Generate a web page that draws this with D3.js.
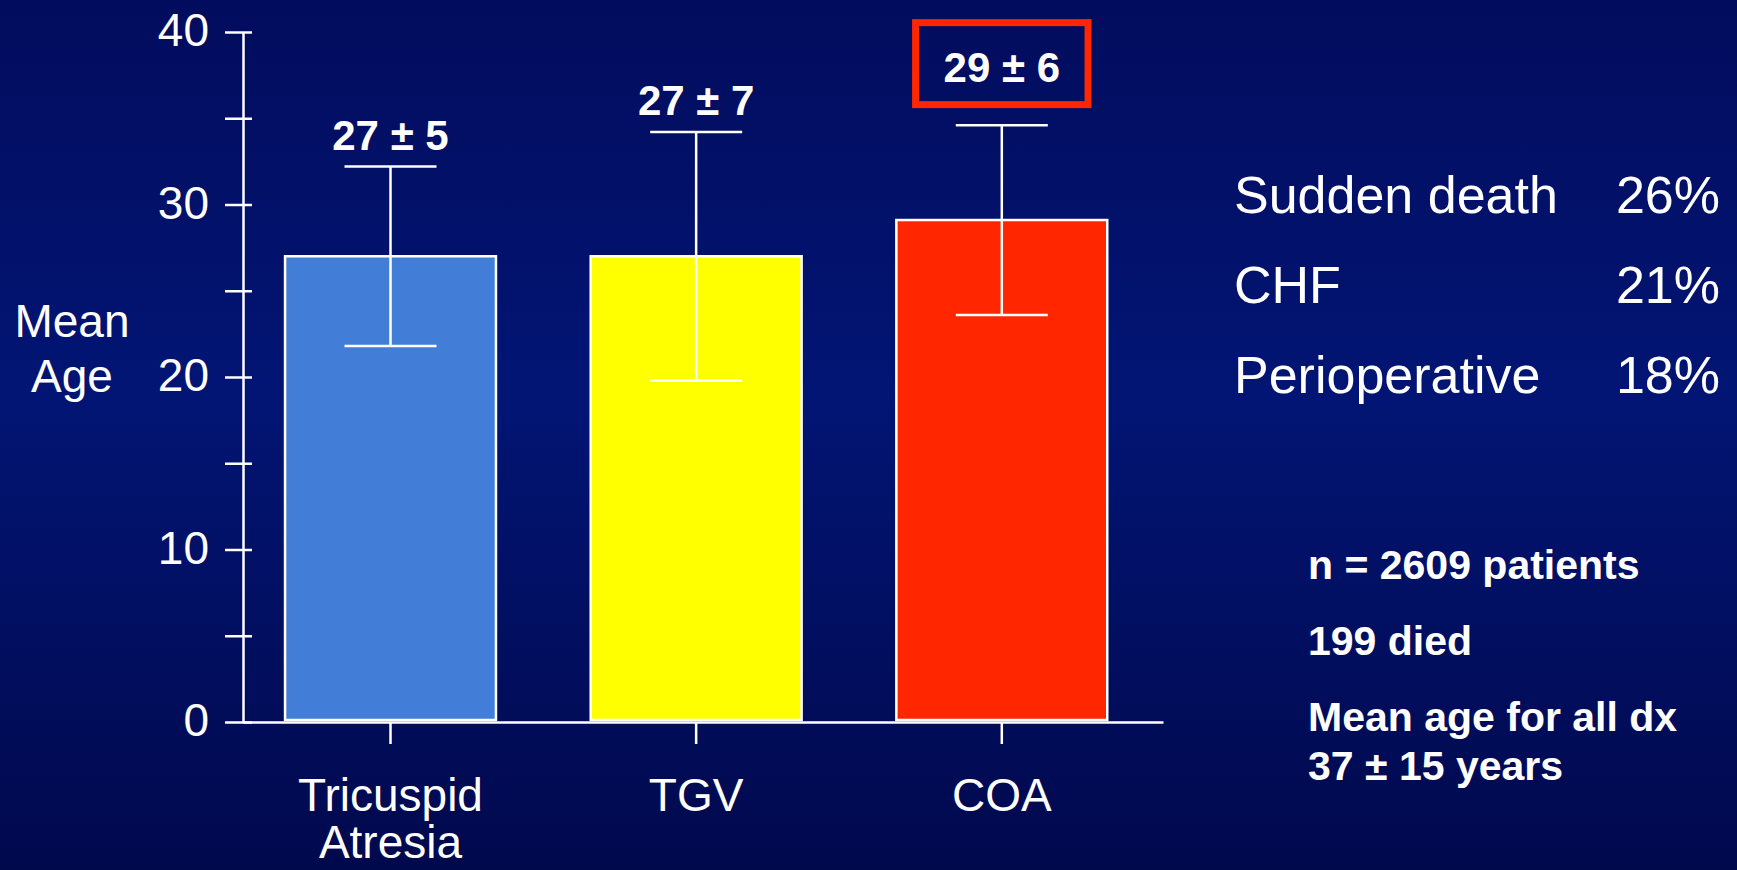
<!DOCTYPE html>
<html>
<head>
<meta charset="utf-8">
<script src="https://cdn.jsdelivr.net/npm/d3@7"></script>
<style>
  html, body { margin: 0; padding: 0; background: #02126e; }
  svg { display: block; }
  text { font-family: "Liberation Sans", Arial, sans-serif; fill: #ffffff; }
</style>
</head>
<body>
<svg id="chart" width="1737" height="870"></svg>
<script>
// ---- data ----
const categories = [["Tricuspid", "Atresia"], ["TGV"], ["COA"]];
const meanAge = [27, 27, 29.1];
const errorSD = [5.2, 7.2, 5.5];
const valueLabels = ["27 \u00b1 5", "27 \u00b1 7", "29 \u00b1 6"];
const barColors = ["#427ed7", "#ffff00", "#ff2600"];
const highlightIndex = 2;
const yTicks = [0, 5, 10, 15, 20, 25, 30, 35, 40];
const yLabelTicks = [0, 10, 20, 30, 40];
const causes = ["Sudden death", "CHF", "Perioperative"];
const causePct = ["26%", "21%", "18%"];
const notes = [["n = 2609 patients"], ["199 died"], ["Mean age for all dx", "37 \u00b1 15 years"]];

const W = 1737, H = 870;
const svg = d3.select("#chart");

// background gradient
const defs = svg.append("defs");
const grad = defs.append("linearGradient").attr("id", "bg").attr("x1", 0).attr("y1", 0).attr("x2", 0).attr("y2", 1);
grad.append("stop").attr("offset", "0%").attr("stop-color", "#020c5d");
grad.append("stop").attr("offset", "45%").attr("stop-color", "#021574");
grad.append("stop").attr("offset", "100%").attr("stop-color", "#01094d");
svg.append("rect").attr("width", W).attr("height", H).attr("fill", "url(#bg)");

// scales
const axisX = 243, baseY = 722, topY = 32;
const x = d3.scaleBand().domain(d3.range(categories.length))
  .range([axisX, 1163]).paddingInner(0.31).paddingOuter(0.16).align(0.43);
const y = d3.scaleLinear().domain([0, 40]).range([baseY, topY]);

// bars
const bars = svg.append("g");
bars.selectAll("rect").data(meanAge).join("rect")
  .attr("x", (d, i) => x(i))
  .attr("y", d => y(d))
  .attr("width", x.bandwidth())
  .attr("height", d => y(0) - y(d) - 2)
  .attr("fill", (d, i) => barColors[i])
  .attr("stroke", "#ffffff")
  .attr("stroke-width", 2.5);

// error bars
const capW = 92;
const eb = svg.append("g").attr("stroke", "#ffffff").attr("stroke-width", 2.5);
meanAge.forEach((m, i) => {
  const cx = x(i) + x.bandwidth() / 2;
  const hi = y(m + errorSD[i]), lo = y(m - errorSD[i]);
  eb.append("line").attr("x1", cx).attr("x2", cx).attr("y1", hi).attr("y2", lo);
  eb.append("line").attr("x1", cx - capW / 2).attr("x2", cx + capW / 2).attr("y1", hi).attr("y2", hi);
  eb.append("line").attr("x1", cx - capW / 2).attr("x2", cx + capW / 2).attr("y1", lo).attr("y2", lo);
});

// value labels
meanAge.forEach((m, i) => {
  const cx = x(i) + x.bandwidth() / 2;
  const capTop = y(m + errorSD[i]);
  const by = i === highlightIndex ? capTop - 43 : capTop - 17;
  const t = svg.append("text")
    .attr("x", cx).attr("y", by)
    .attr("text-anchor", "middle")
    .attr("font-size", 42).attr("font-weight", "bold")
    .text(valueLabels[i]);
  if (i === highlightIndex) {
    const bb = t.node().getBBox();
    svg.append("rect")
      .attr("x", bb.x - 28).attr("y", by - 59.5)
      .attr("width", bb.width + 56).attr("height", 82)
      .attr("fill", "none").attr("stroke", barColors[i]).attr("stroke-width", 7);
  }
});

// y axis
const yAxisG = svg.append("g").attr("transform", `translate(${axisX},0)`)
  .call(d3.axisLeft(y).tickValues(yTicks).tickSizeInner(18).tickSizeOuter(0).tickPadding(16)
    .tickFormat(d => yLabelTicks.includes(d) ? d : ""));
yAxisG.selectAll("path, line").attr("stroke", "#ffffff").attr("stroke-width", 2.5);
yAxisG.selectAll(".tick").append("line").attr("x1", 0).attr("x2", 9)
  .attr("stroke", "#ffffff").attr("stroke-width", 2.5);
yAxisG.selectAll("text").attr("fill", "#ffffff")
  .attr("font-family", "Liberation Sans, Arial, sans-serif")
  .attr("font-size", 46).attr("dy", "0.3em");

// x axis
const xAxisG = svg.append("g").attr("transform", `translate(0,${baseY})`)
  .call(d3.axisBottom(x).tickSizeInner(22).tickSizeOuter(0).tickFormat(() => ""));
xAxisG.selectAll("path, line").attr("stroke", "#ffffff").attr("stroke-width", 2.5);

// x category labels
categories.forEach((lines, i) => {
  const cx = x(i) + x.bandwidth() / 2;
  const t = svg.append("text").attr("x", cx).attr("y", 811)
    .attr("text-anchor", "middle").attr("font-size", 46);
  lines.forEach((ln, k) => {
    t.append("tspan").attr("x", cx).attr("dy", k === 0 ? 0 : 47).text(ln);
  });
});

// y axis title
const yt = svg.append("text").attr("x", 72).attr("y", 337)
  .attr("text-anchor", "middle").attr("font-size", 46);
yt.append("tspan").attr("x", 72).attr("dy", 0).text("Mean");
yt.append("tspan").attr("x", 72).attr("dy", 55).text("Age");

// causes of death
causes.forEach((c, i) => {
  svg.append("text").attr("x", 1234).attr("y", 213 + i * 90)
    .attr("font-size", 52).text(c);
  svg.append("text").attr("x", 1720).attr("y", 213 + i * 90)
    .attr("text-anchor", "end").attr("font-size", 52).text(causePct[i]);
});

// notes
const noteY = [579, 655, 731];
notes.forEach((lines, i) => {
  const t = svg.append("text").attr("x", 1308).attr("y", noteY[i])
    .attr("font-size", 41).attr("font-weight", "bold");
  lines.forEach((ln, k) => {
    t.append("tspan").attr("x", 1308).attr("dy", k === 0 ? 0 : 49).text(ln);
  });
});
</script>
</body>
</html>
